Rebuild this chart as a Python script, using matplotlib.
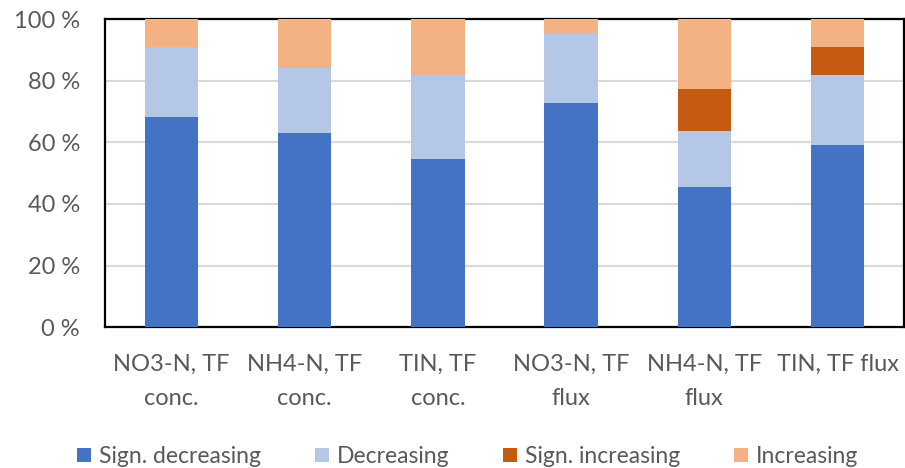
import matplotlib.pyplot as plt
import numpy as np

plt.rcParams["font.family"] = ["Lato", "DejaVu Sans"]

categories = ["NO3-N, TF\nconc.", "NH4-N, TF\nconc.", "TIN, TF\nconc.",
              "NO3-N, TF\nflux", "NH4-N, TF\nflux", "TIN, TF flux"]
series_names = ["Sign. decreasing", "Decreasing", "Sign. increasing", "Increasing"]
sign_decreasing = [68.2, 63.2, 54.5, 72.7, 45.5, 59.1]
decreasing = [22.7, 21.0, 27.3, 22.7, 18.2, 22.7]
sign_increasing = [0.0, 0.0, 0.0, 0.0, 13.6, 9.1]
increasing = [9.1, 15.8, 18.2, 4.5, 22.7, 9.1]
colors = ["#4472C4", "#B4C7E7", "#C55A11", "#F4B183"]

text_color = "#595959"

fig = plt.figure(figsize=(9.05, 4.68), dpi=100)
ax = fig.add_axes([0.116, 0.301, 0.883, 0.658])

x = np.arange(len(categories))
bottom = np.zeros(len(categories))
for name, vals, col in zip(series_names,
                           [sign_decreasing, decreasing, sign_increasing, increasing],
                           colors):
    vals = np.array(vals)
    ax.bar(x, vals, width=0.4, bottom=bottom, color=col, label=name, zorder=3)
    bottom += vals

ax.set_xlim(-0.5, len(categories) - 0.5)
ax.set_ylim(0, 100)
ax.set_yticks(range(0, 101, 20))
ax.set_yticklabels([f"{v} %" for v in range(0, 101, 20)])
ax.set_xticks(x)
ax.set_xticklabels(categories, linespacing=1.8)
ax.yaxis.grid(True, color="#d9d9d9", linewidth=1.5, zorder=0)
ax.tick_params(axis="both", length=0, labelsize=17, labelcolor=text_color)
ax.tick_params(axis="y", pad=18)
ax.tick_params(axis="x", pad=19)
for spine in ax.spines.values():
    spine.set_color("black")
    spine.set_linewidth(1.6)

fig.legend(loc="center", bbox_to_anchor=(0.517, 0.024), ncol=4, frameon=False,
           fontsize=16.5, labelcolor=text_color, handlelength=0.6, handleheight=0.6,
           handletextpad=0.35, columnspacing=2.35)

fig.savefig("out.png", dpi=100)
